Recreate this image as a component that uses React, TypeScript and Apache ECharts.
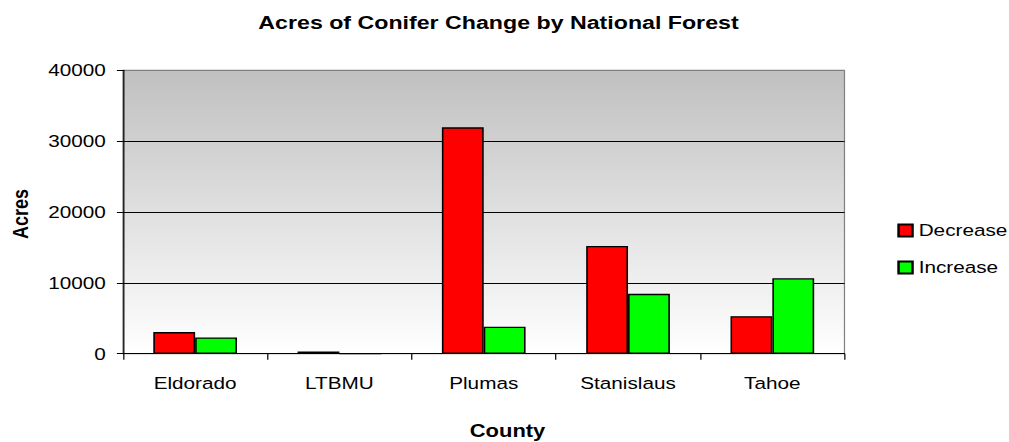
import React, { useEffect, useRef } from "react";
import * as echarts from "echarts";

const categories = ["Eldorado", "LTBMU", "Plumas", "Stanislaus", "Tahoe"];
const decrease = [3050, 300, 31950, 15200, 5300];
const increase = [2300, 0, 3800, 8450, 10650];
const seriesNames = ["Decrease", "Increase"];
const chartTitle = "Acres of Conifer Change by National Forest";
const xName = "County";
const yName = "Acres";

const SX = 1.22;
const W = 1009 / SX;
const H = 442;
const FONT = "'Liberation Sans', Arial, Helvetica, sans-serif";

export default function App() {
  const ref = useRef<HTMLDivElement>(null);
  useEffect(() => {
    if (!ref.current) return;
    const chart = echarts.init(ref.current, null, { renderer: "svg" });
    const gradient = new echarts.graphic.LinearGradient(0, 0, 0, 1, [
      { offset: 0, color: "#c0c0c0" },
      { offset: 1, color: "#ffffff" },
    ]);
    chart.setOption({
      animation: false,
      backgroundColor: "#ffffff",
      textStyle: { fontFamily: FONT },
      grid: {
        left: 100.8,
        right: 134.8,
        top: 70.3,
        bottom: 88.3,
        show: true,
        backgroundColor: gradient,
        borderColor: "#808080",
        borderWidth: 1,
        containLabel: false,
        outerBoundsMode: "none",
      },
      legend: {
        orient: "vertical",
        left: 730.5,
        top: 217,
        itemWidth: 11.5,
        itemHeight: 12,
        itemGap: 20,
        icon: "rect",
        textStyle: { fontSize: 17, color: "#000", fontFamily: FONT },
        data: seriesNames,
      },
      xAxis: {
        type: "category",
        data: categories,
        axisLine: { lineStyle: { color: "#000", width: 1 } },
        axisTick: { show: true, length: 6, lineStyle: { color: "#000" } },
        axisLabel: { fontSize: 17, color: "#000", margin: 21, fontFamily: FONT },
        splitLine: { show: false },
      },
      yAxis: {
        type: "value",
        min: 0,
        max: 40000,
        interval: 10000,
        axisLine: { show: true, lineStyle: { color: "#000", width: 1 } },
        axisTick: { show: true, length: 5, lineStyle: { color: "#000" } },
        axisLabel: {
          fontSize: 17,
          color: "#000",
          margin: 14,
          fontFamily: FONT,
          formatter: (v: number) => String(v),
        },
        splitLine: {
          show: true,
          lineStyle: { color: ["#000", "#000", "#000", "#000", "#808080"], width: 1 },
        },
      },
      series: [
        {
          name: seriesNames[0],
          type: "bar",
          data: decrease,
          barGap: "0%",
          barCategoryGap: "42%",
          itemStyle: { color: "#ff0000", borderColor: "#000", borderWidth: 1.3 },
        },
        {
          name: seriesNames[1],
          type: "bar",
          data: increase,
          barGap: "0%",
          barCategoryGap: "42%",
          itemStyle: { color: "#00ff00", borderColor: "#000", borderWidth: 1.3 },
        },
      ],
      graphic: [
        {
          type: "text",
          x: 408.6,
          y: 22,
          style: {
            text: chartTitle,
            font: `bold 19px ${FONT}`,
            fill: "#000",
            align: "center",
            verticalAlign: "middle",
          },
        },
        {
          type: "text",
          x: 416,
          y: 430.5,
          style: {
            text: xName,
            font: `bold 18px ${FONT}`,
            fill: "#000",
            align: "center",
            verticalAlign: "middle",
          },
        },
        {
          type: "text",
          x: 16.8,
          y: 214,
          rotation: Math.PI / 2,
          style: {
            text: yName,
            font: `bold 18px ${FONT}`,
            fill: "#000",
            align: "center",
            verticalAlign: "middle",
          },
        },
      ],
    });
    return () => chart.dispose();
  }, []);
  return (
    <div
      ref={ref}
      style={{
        position: "fixed",
        left: 0,
        top: 0,
        width: `${W}px`,
        height: `${H}px`,
        transform: `scaleX(${SX})`,
        transformOrigin: "0 0",
        background: "#fff",
      }}
    />
  );
}
